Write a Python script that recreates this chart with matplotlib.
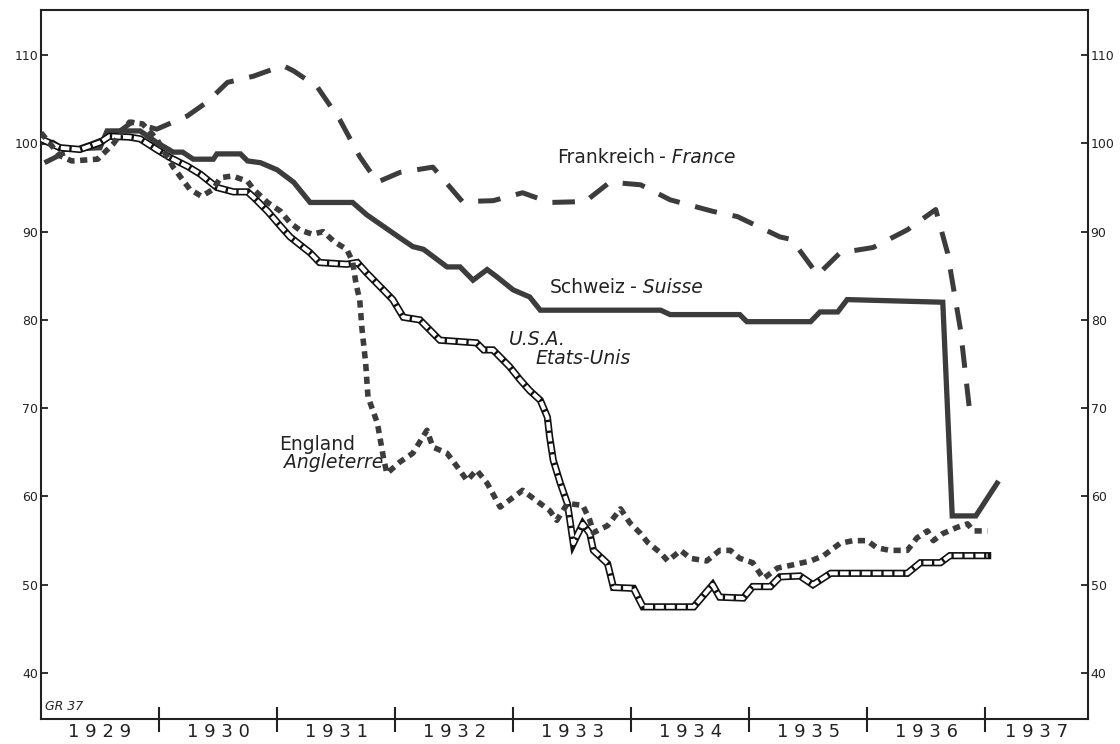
import matplotlib.pyplot as plt

# index values (1929 = 100), x in fractional years
france_x = [1929.03, 1929.18, 1929.42, 1929.63, 1929.77, 1929.98, 1930.24, 1930.41, 1930.58,
            1930.80, 1931.05, 1931.14, 1931.34, 1931.53, 1931.70, 1931.85, 1932.04, 1932.32,
            1932.57, 1932.83, 1933.08, 1933.31, 1933.61, 1933.82, 1934.08, 1934.33, 1934.69,
            1934.90, 1935.26, 1935.36, 1935.58, 1935.77, 1936.05, 1936.34, 1936.58, 1936.68,
            1936.79, 1936.87]
france_y = [97.8, 98.8, 99.9, 101.0, 102.4, 101.6, 103.1, 104.7, 106.9,
            107.6, 108.8, 108.2, 106.4, 102.7, 98.5, 95.6, 96.7, 97.3,
            93.4, 93.5, 94.4, 93.3, 93.4, 95.6, 95.3, 93.6, 92.3,
            91.7, 89.4, 89.1, 85.1, 87.6, 88.2, 90.2, 92.5, 87.6,
            78.9, 69.4]

swiss_x = [1929.0, 1929.1, 1929.19, 1929.5, 1929.56, 1929.84, 1929.98, 1930.12, 1930.20,
           1930.29, 1930.46, 1930.49, 1930.69, 1930.75, 1930.86, 1931.0, 1931.14, 1931.28,
           1931.64, 1931.76, 1932.04, 1932.15, 1932.24, 1932.44, 1932.55, 1932.66, 1932.78,
           1932.86, 1933.0, 1933.14, 1933.23, 1934.25, 1934.33, 1934.92, 1934.98, 1935.52,
           1935.60, 1935.75, 1935.83, 1936.64, 1936.72, 1936.92, 1937.10]
swiss_y = [100.1, 100.1, 99.3, 99.5, 101.4, 101.4, 100.1, 99.0, 99.0,
           98.2, 98.2, 98.8, 98.8, 98.0, 97.8, 97.0, 95.6, 93.3,
           93.3, 91.9, 89.3, 88.3, 88.0, 86.0, 86.0, 84.5, 85.7,
           84.9, 83.4, 82.6, 81.1, 81.1, 80.6, 80.6, 79.8, 79.8,
           80.9, 80.9, 82.3, 82.0, 57.8, 57.8, 61.5]

usa_x = [1929.0, 1929.16, 1929.33, 1929.5, 1929.58, 1929.75, 1929.84, 1929.98, 1930.09,
         1930.24, 1930.35, 1930.49, 1930.63, 1930.75, 1930.80, 1930.92, 1931.03, 1931.11,
         1931.28, 1931.36, 1931.59, 1931.68, 1931.76, 1931.90, 1931.98, 1932.07, 1932.21,
         1932.38, 1932.69, 1932.75, 1932.83, 1932.97, 1933.06, 1933.14, 1933.23, 1933.29,
         1933.31, 1933.34, 1933.40, 1933.46, 1933.51, 1933.59, 1933.65, 1933.68, 1933.80,
         1933.85, 1934.02, 1934.10, 1934.53, 1934.69, 1934.75, 1934.95, 1935.03, 1935.18,
         1935.26, 1935.43, 1935.54, 1935.69, 1936.34, 1936.45, 1936.62, 1936.70, 1937.02]
usa_y = [100.5, 99.5, 99.3, 100.1, 100.8, 100.7, 100.5, 99.3, 98.4,
         97.4, 96.5, 95.0, 94.5, 94.5, 93.9, 92.3, 90.6, 89.4,
         87.6, 86.5, 86.3, 86.5, 85.3, 83.4, 82.3, 80.3, 80.0,
         77.7, 77.4, 76.6, 76.6, 74.7, 73.2, 72.0, 70.9, 69.0,
         66.7, 64.1, 61.5, 59.2, 54.7, 56.9, 55.8, 53.9, 52.4,
         49.7, 49.6, 47.5, 47.5, 50.0, 48.6, 48.5, 49.8, 49.8,
         50.9, 51.0, 50.0, 51.3, 51.3, 52.5, 52.5, 53.3, 53.3]

england_x = [1929.0, 1929.16, 1929.26, 1929.48, 1929.61, 1929.75, 1929.86, 1929.98, 1930.12,
             1930.26, 1930.36, 1930.46, 1930.52, 1930.62, 1930.75, 1930.80, 1930.92, 1931.03,
             1931.11, 1931.19, 1931.30, 1931.39, 1931.49, 1931.59, 1931.64, 1931.67, 1931.70,
             1931.72, 1931.75, 1931.77, 1931.85, 1931.90, 1931.93, 1932.04, 1932.15, 1932.27,
             1932.32, 1932.44, 1932.53, 1932.61, 1932.69, 1932.78, 1932.89, 1933.00, 1933.08,
             1933.20, 1933.31, 1933.37, 1933.46, 1933.59, 1933.65, 1933.68, 1933.80, 1933.91,
             1933.99, 1934.08, 1934.14, 1934.25, 1934.31, 1934.42, 1934.50, 1934.64, 1934.75,
             1934.84, 1934.92, 1935.03, 1935.12, 1935.24, 1935.35, 1935.52, 1935.63, 1935.77,
             1935.88, 1936.00, 1936.08, 1936.19, 1936.34, 1936.42, 1936.51, 1936.56, 1936.64,
             1936.76, 1936.85, 1936.90, 1937.02]
england_y = [101.2, 98.6, 98.0, 98.2, 99.9, 102.4, 102.2, 100.5, 97.3,
             94.8, 94.0, 94.8, 96.1, 96.3, 95.7, 94.8, 93.3, 92.3,
             91.0, 90.2, 89.7, 90.0, 88.8, 88.0, 86.6, 84.0, 82.3,
             78.9, 75.2, 71.3, 68.3, 64.5, 62.6, 63.9, 64.9, 67.5,
             65.6, 64.9, 63.3, 61.8, 63.0, 61.5, 58.8, 59.9, 60.7,
             59.5, 58.4, 57.3, 59.2, 59.0, 57.3, 55.9, 56.7, 58.6,
             57.0, 55.8, 54.8, 53.6, 52.7, 53.9, 53.0, 52.7, 53.9,
             53.9, 53.0, 52.5, 50.7, 51.9, 52.2, 52.7, 53.3, 54.7,
             55.0, 55.0, 54.2, 53.9, 53.9, 55.3, 56.1, 55.0, 55.8,
             56.5, 56.9, 56.1, 56.1]

years = ['1929', '1930', '1931', '1932', '1933', '1934', '1935', '1936', '1937']
yticks = [40, 50, 60, 70, 80, 90, 100, 110]

ink = '#3c3c3c'
X_END = 1937.87

fig = plt.figure(figsize=(11.2, 7.44), dpi=100)
ax = fig.add_axes([0.0366, 0.0336, 0.9348, 0.953])

ax.plot(swiss_x, swiss_y, color=ink, lw=3.8, solid_joinstyle='miter', zorder=2)
ax.plot(france_x, france_y, color=ink, lw=3.6, linestyle=(0, (4.5, 3.2)),
        dash_capstyle='butt', zorder=3)
ax.plot(usa_x, usa_y, color='#111111', lw=5.2, solid_joinstyle='miter', zorder=4)
ax.plot(usa_x, usa_y, color='white', lw=2.8, linestyle=(0, (2.2, 0.6)),
        dash_capstyle='butt', zorder=5)
ax.plot(england_x, england_y, color=ink, lw=4, linestyle=(0, (1.3, 1.0)),
        dash_capstyle='butt', zorder=6)

txt = dict(color='#222222', fontsize=13.5, va='center')


def label(x, y, upright, italic):
    t = ax.text(x, y, upright, **txt)
    ax.annotate(italic, xy=(1, 0.5), xycoords=t, xytext=(3, 0),
                textcoords='offset points', ha='left', style='italic', **txt)


label(1933.37, 98.4, 'Frankreich', '- France')
label(1933.31, 83.7, 'Schweiz', '- Suisse')
ax.text(1932.96, 77.8, 'U.S.A.', style='italic', **txt)
ax.text(1933.19, 75.6, 'Etats-Unis', style='italic', **txt)
ax.text(1931.02, 65.9, 'England', **txt)
ax.text(1931.06, 63.8, 'Angleterre', style='italic', **txt)
ax.text(0.004, 0.012, 'GR 37', transform=ax.transAxes, fontsize=9, color='#222222',
        style='italic')

ax.set_xlim(1929, X_END)
ax.set_ylim(34.8, 115.1)

bounds = list(range(1930, 1938))
ax.set_xticks(bounds)
ax.set_xticklabels([])
mids = [1929 + i + 0.5 for i in range(8)] + [(1937 + X_END) / 2]
ax.set_xticks(mids, minor=True)
ax.set_xticklabels([' '.join(y) for y in years], minor=True)
ax.tick_params(axis='x', which='major', direction='inout', length=18, width=1.5,
               color='#222222')
ax.tick_params(axis='x', which='minor', length=0, pad=3, labelsize=13,
               labelcolor='#222222')

ax.set_yticks(yticks)
ax.set_yticklabels([str(v) for v in yticks])
ax.tick_params(axis='y', direction='in', length=5, width=1.3, pad=2, labelsize=9,
               right=True, labelright=True, color='#222222', labelcolor='#222222')

for s in ax.spines.values():
    s.set_linewidth(1.5)
    s.set_color('#222222')

fig.savefig('out.png', dpi=100)
